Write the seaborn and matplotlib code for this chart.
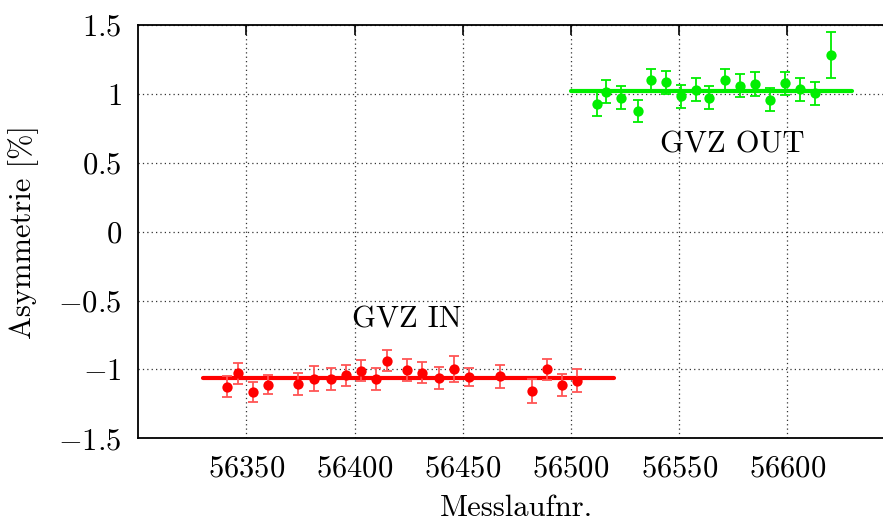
import numpy as np
import pandas as pd
import matplotlib
matplotlib.use("Agg")
import matplotlib.pyplot as plt
import seaborn as sns

# ---- data ----
in_runs = [56341, 56346, 56353, 56360, 56374, 56381, 56389, 56396, 56403, 56410,
           56415, 56424, 56431, 56439, 56446, 56453, 56467, 56482, 56489, 56496, 56503]
in_asym = [-1.125, -1.028, -1.165, -1.110, -1.105, -1.067, -1.070, -1.042, -1.009, -1.067,
           -0.936, -1.006, -1.023, -1.060, -0.996, -1.055, -1.050, -1.156, -0.999, -1.115, -1.081]
in_err = [0.076, 0.075, 0.074, 0.066, 0.078, 0.093, 0.080, 0.077, 0.077, 0.080,
          0.077, 0.078, 0.078, 0.081, 0.094, 0.064, 0.083, 0.086, 0.078, 0.080, 0.083]

out_runs = [56512, 56516, 56523, 56531, 56537, 56544, 56551, 56558, 56564, 56571,
            56578, 56585, 56592, 56599, 56606, 56613, 56620]
out_asym = [0.924, 1.016, 0.972, 0.876, 1.101, 1.084, 0.983, 1.031, 0.972, 1.101,
            1.060, 1.070, 0.958, 1.077, 1.033, 1.004, 1.280]
out_err = [0.088, 0.083, 0.082, 0.082, 0.080, 0.083, 0.085, 0.082, 0.082, 0.080,
           0.086, 0.086, 0.083, 0.083, 0.083, 0.083, 0.167]

in_fit_range = [56330, 56520]
in_fit_value = -1.06
out_fit_range = [56500, 56630]
out_fit_value = 1.023

x_ticks = [56350, 56400, 56450, 56500, 56550, 56600]
y_ticks = [-1.5, -1, -0.5, 0, 0.5, 1, 1.5]

# ---- style ----
sns.set_style("white")
plt.rcParams["font.family"] = ["serif"]
plt.rcParams["font.serif"] = ["cmr10", "DejaVu Serif"]
plt.rcParams["mathtext.fontset"] = "cm"
plt.rcParams["axes.formatter.use_mathtext"] = True
plt.rcParams["axes.unicode_minus"] = True
plt.rcParams["text.color"] = "black"
plt.rcParams["axes.labelcolor"] = "black"
plt.rcParams["xtick.color"] = "black"
plt.rcParams["ytick.color"] = "black"

W, H = 883, 524
fig = plt.figure(figsize=(W / 100, H / 100), dpi=100)
ax = fig.add_axes([138.3 / W, (H - 438.3) / H, (895.5 - 138.3) / W, (438.3 - 25) / H])

RED = "#ff0000"
GREEN = "#00ee00"

df_in = pd.DataFrame({"run": in_runs, "asym": in_asym, "err": in_err})
df_out = pd.DataFrame({"run": out_runs, "asym": out_asym, "err": out_err})

# fit lines
fit_df_in = pd.DataFrame({"run": in_fit_range, "asym": [in_fit_value] * 2})
fit_df_out = pd.DataFrame({"run": out_fit_range, "asym": [out_fit_value] * 2})
sns.lineplot(data=fit_df_in, x="run", y="asym", color=RED, lw=3, ax=ax, zorder=3)
sns.lineplot(data=fit_df_out, x="run", y="asym", color=GREEN, lw=3, ax=ax, zorder=3)

# error bars
ax.errorbar(df_in["run"], df_in["asym"], yerr=df_in["err"], fmt="none",
            ecolor="#ff5555", elinewidth=1.3, capsize=3.5, capthick=1.3, zorder=4)
ax.errorbar(df_out["run"], df_out["asym"], yerr=df_out["err"], fmt="none",
            ecolor=GREEN, elinewidth=1.3, capsize=3.5, capthick=1.3, zorder=4)

# points
sns.scatterplot(data=df_in, x="run", y="asym", color=RED, s=55, linewidth=0, ax=ax, zorder=5)
sns.scatterplot(data=df_out, x="run", y="asym", color=GREEN, s=55, linewidth=0, ax=ax, zorder=5)

ax.set_xlim(56300, 56650)
ax.set_ylim(-1.5, 1.5)
ax.set_xticks(x_ticks)
ax.set_yticks(y_ticks)
ax.set_yticklabels([r"$%g$" % v if v >= 0 else r"$-%g$" % abs(v) for v in y_ticks])
ax.set_xticklabels([r"$%d$" % v for v in x_ticks])

ax.grid(True, linestyle=(0, (1, 2.5)), color="#333333", lw=0.9)
ax.set_axisbelow(True)
ax.tick_params(direction="in", length=7, width=1.2, top=True, right=True,
               labelsize=22, pad=12, colors="black")
for s in ax.spines.values():
    s.set_linewidth(1.3)
    s.set_color("black")

ax.set_xlabel("Messlaufnr.", fontsize=22, labelpad=9)
ax.set_ylabel("Asymmetrie [%]", fontsize=22, labelpad=14)

ax.text(56424, -0.641, "GVZ IN", fontsize=22, ha="center", va="center")
ax.text(56574.5, 0.629, "GVZ OUT", fontsize=22, ha="center", va="center")

fig.savefig("out.png", dpi=100)
